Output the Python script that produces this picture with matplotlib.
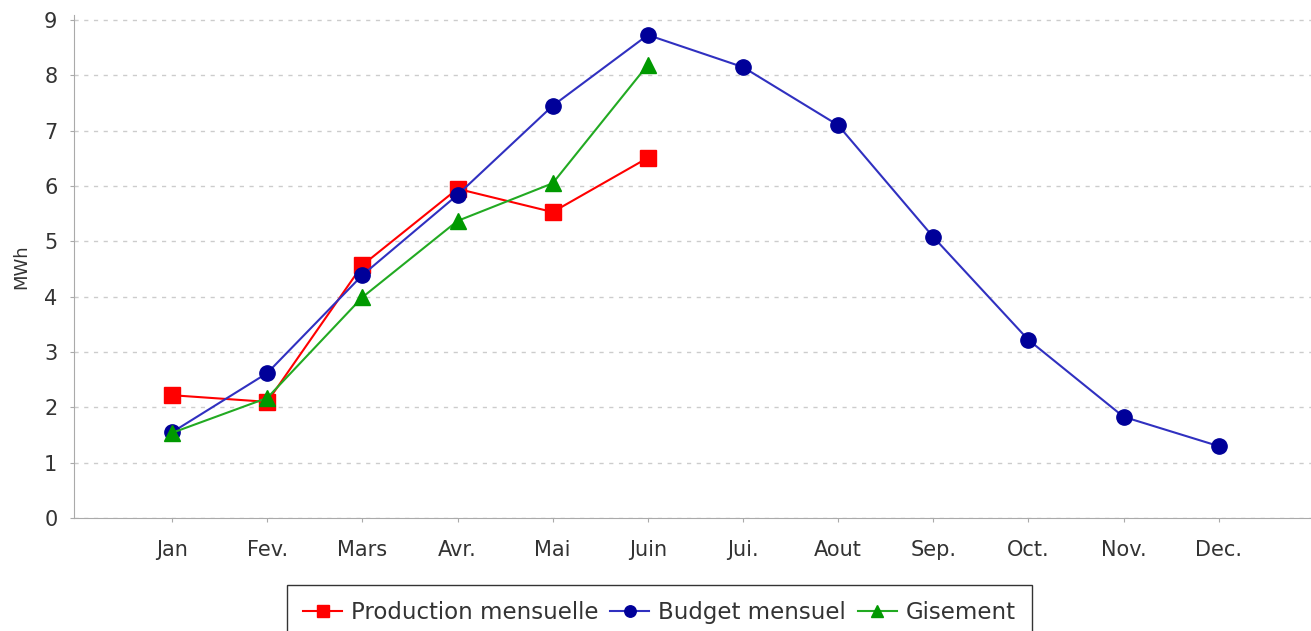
import matplotlib.pyplot as plt
import numpy as np

months = ['Jan', 'Fev.', 'Mars', 'Avr.', 'Mai', 'Juin', 'Jui.', 'Aout', 'Sep.', 'Oct.', 'Nov.', 'Dec.']
production = [2.22, 2.10, 4.57, 5.95, 5.53, 6.51]
budget = [1.55, 2.62, 4.39, 5.84, 7.45, 8.73, 8.15, 7.10, 5.08, 3.22, 1.83, 1.30]
gisement = [1.54, 2.17, 3.99, 5.37, 6.05, 8.19]

plt.rcParams['font.family'] = ['DejaVu Sans']

fig = plt.figure(figsize=(13.11, 6.31), dpi=100)
ax = fig.add_axes([0.0565, 0.179, 0.9435, 0.798])

x = np.arange(len(months))
ax.plot(x[:len(production)], production, color='#ff0000', marker='s', markersize=11,
        linewidth=1.5, label='Production mensuelle', zorder=3)
ax.plot(x, budget, color='#3030c0', marker='o', markersize=11, markerfacecolor='#000099',
        markeredgecolor='#000099', linewidth=1.5, label='Budget mensuel', zorder=4)
ax.plot(x[:len(gisement)], gisement, color='#22aa22', marker='^', markersize=12,
        markerfacecolor='#009900', markeredgecolor='#009900', linewidth=1.5,
        label='Gisement', zorder=5)

ax.set_xlim(-1.03, 11.97)
ax.set_ylim(0, 9.1)
ax.set_xticks(x)
ax.set_xticklabels(months)
ax.set_yticks(np.arange(0, 10))
ax.tick_params(axis='x', length=3, color='#aaaaaa', pad=13, labelsize=15, labelcolor='#333333')
ax.tick_params(axis='y', length=3, color='#aaaaaa', pad=9, labelsize=15, labelcolor='#333333')
ax.set_ylabel('MWh', fontsize=13, color='#333333', labelpad=10)

for s in ['top', 'right']:
    ax.spines[s].set_visible(False)
for s in ['left', 'bottom']:
    ax.spines[s].set_color('#aaaaaa')
ax.yaxis.grid(True, linestyle=(0, (3, 4)), color='#cccccc', linewidth=1)
ax.set_axisbelow(True)

leg = fig.legend(loc='upper center', bbox_to_anchor=(0.503, 0.073), ncol=3,
                 fontsize=16.5, frameon=True, fancybox=False, edgecolor='black',
                 handlelength=1.7, handletextpad=0.4, columnspacing=0.5,
                 borderpad=0.7, borderaxespad=0, markerscale=0.75,
                 labelcolor='#333333')
leg.get_frame().set_linewidth(1.0)

fig.savefig('out.png', dpi=100)
